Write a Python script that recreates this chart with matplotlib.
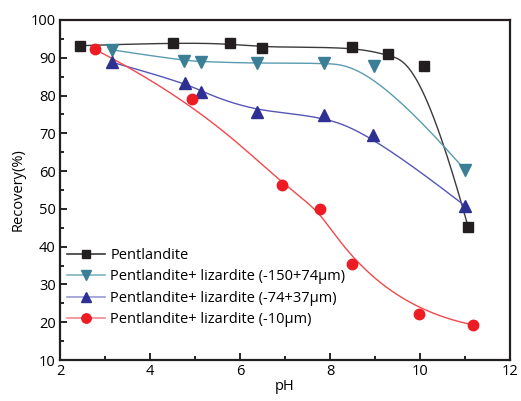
import numpy as np
import matplotlib
matplotlib.use("Agg")
import matplotlib.pyplot as plt

plt.rcParams['font.family'] = ['Open Sans', 'DejaVu Sans']

# data
ph_pent = [2.45, 4.5, 5.78, 6.48, 8.48, 9.28, 10.08, 11.07]
rec_pent = [93.2, 94.0, 93.8, 92.7, 92.9, 90.9, 87.7, 45.2]

ph_liz150 = [3.15, 4.76, 5.13, 6.37, 7.87, 8.98, 11.0]
rec_liz150 = [92.1, 89.2, 89.0, 88.5, 88.7, 87.8, 60.3]

ph_liz74 = [3.16, 4.78, 5.13, 6.37, 7.87, 8.96, 11.0]
rec_liz74 = [88.8, 83.4, 81.0, 75.6, 74.9, 69.6, 50.8]

ph_liz10 = [2.78, 4.93, 6.93, 7.78, 8.48, 9.98, 11.18]
rec_liz10 = [92.2, 79.0, 56.2, 50.0, 35.4, 22.2, 19.3]

labels = ['Pentlandite',
          'Pentlandite+ lizardite (-150+74μm)',
          'Pentlandite+ lizardite (-74+37μm)',
          'Pentlandite+ lizardite (-10μm)']


def bspline(xs, ys, k=3, num=400):
    """clamped B-spline using the data points as control points (Origin style)"""
    pts = np.column_stack([xs, ys]).astype(float)
    n = len(pts)
    k = min(k, n - 1)
    knots = np.concatenate([np.zeros(k), np.linspace(0, 1, n - k + 1), np.ones(k)])
    out = []
    for t in np.linspace(0, 1, num):
        # find span
        if t >= 1:
            s = n - 1
        else:
            s = np.searchsorted(knots, t, side='right') - 1
        d = [pts[j + s - k].copy() for j in range(k + 1)]
        for r in range(1, k + 1):
            for j in range(k, r - 1, -1):
                i = j + s - k
                den = knots[i + k + 1 - r] - knots[i]
                a = 0 if den == 0 else (t - knots[i]) / den
                d[j] = (1 - a) * d[j - 1] + a * d[j]
        out.append(d[k])
    out = np.array(out)
    return out[:, 0], out[:, 1]


fig = plt.figure(figsize=(5.21, 4.01), dpi=100)
ax = fig.add_axes([60 / 521, 41 / 401, 450 / 521, 340 / 401])

series = [
    (ph_pent, rec_pent, 's', '#231f20', '#3a3a3a', '#3a3a3a', 6.5),
    (ph_liz150, rec_liz150, 'v', '#3b7f96', '#5a9bb0', '#7fb3c4', 8.5),
    (ph_liz74, rec_liz74, '^', '#2e3192', '#5656b8', '#9a9ad6', 8.5),
    (ph_liz10, rec_liz10, 'o', '#ed1c24', '#f2474d', '#f4898c', 7.5),
]

for (x, y, m, mc, lc, lgc, ms), lab in zip(series, labels):
    cx, cy = bspline(x, y)
    ax.plot(cx, cy, color=lc, lw=1.0, zorder=2)
    ax.plot(x, y, ls='none', marker=m, color=mc, ms=ms, mec=mc, zorder=3)
    ax.plot([], [], color=lgc, lw=1.2, marker=m, mfc=mc, mec=mc, ms=ms * 0.9,
            label=lab)

ax.set_xlim(2, 12)
ax.set_ylim(10, 100)
ax.set_xticks([2, 4, 6, 8, 10, 12])
ax.set_xticks([3, 5, 7, 9, 11], minor=True)
ax.set_yticks(range(10, 101, 10))
ax.set_yticks(range(15, 100, 10), minor=True)
ax.tick_params(which='both', direction='in', top=False, right=False,
               labelsize=10.5, width=1.2, pad=3)
ax.tick_params(which='major', length=5)
ax.tick_params(which='minor', length=3)
for sp in ax.spines.values():
    sp.set_linewidth(1.6)
    sp.set_color('#231f20')

ax.set_xlabel('pH', fontsize=10.5, labelpad=0)
ax.set_ylabel('Recovery(%)', fontsize=10.5, labelpad=4)

ax.legend(loc='upper left', bbox_to_anchor=(0.015, 0.33), frameon=False,
          fontsize=10.5, borderpad=0, borderaxespad=0, handlelength=2.6,
          handletextpad=0.4, labelspacing=0.45)

fig.savefig('out.png', dpi=100)
